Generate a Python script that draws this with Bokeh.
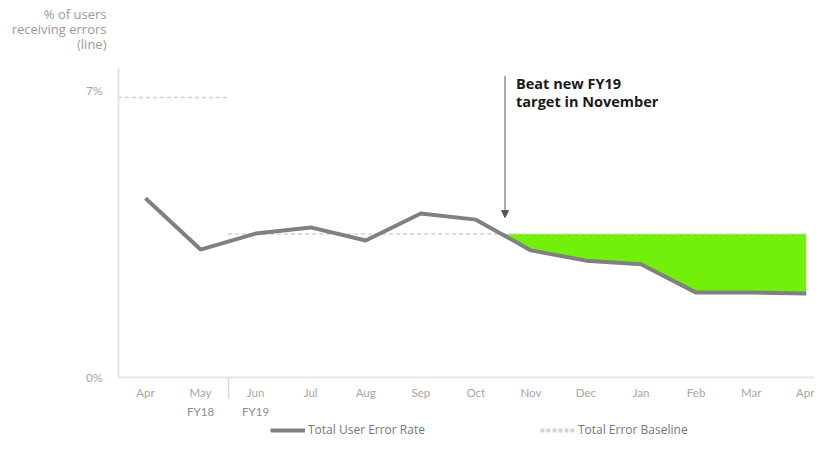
from bokeh.plotting import figure
from bokeh.layouts import column
from bokeh.models import (Range1d, FixedTicker, LinearAxis, Label, Arrow, NormalHead, Legend,
                          LegendItem)
from bokeh.embed import file_html
from bokeh.resources import INLINE

# ---------------- data ----------------
months = ["Apr", "May", "Jun", "Jul", "Aug", "Sep", "Oct", "Nov", "Dec", "Jan", "Feb", "Mar", "Apr"]
error_rate = [4.37, 3.12, 3.51, 3.66, 3.34, 4.0, 3.85, 3.1, 2.85, 2.76, 2.07, 2.07, 2.05]
fy18_baseline = 6.83
fy19_baseline = 3.5
fy_labels = {1: "FY18", 2: "FY19"}
fy_boundary = 1.5
y_ticks = [0, 7]
y_tick_labels = {0: "0%", 7: "7%"}
y_title_lines = ["% of users", "receiving errors", "(line)"]
legend_labels = ["Total User Error Rate", "Total Error Baseline"]
annotation_text = "Beat new FY19\ntarget in November"
arrow_x = 6.53
arrow_top = 7.35
arrow_bottom = 3.9

x = list(range(len(months)))

# crossing where the line goes below the FY19 baseline (last crossing)
cross_i = None
for i in range(len(error_rate) - 1, 0, -1):
    if error_rate[i - 1] > fy19_baseline >= error_rate[i]:
        cross_i = i
        break
a, b = error_rate[cross_i - 1], error_rate[cross_i]
xc = (cross_i - 1) + (a - fy19_baseline) / (a - b)
fill_x = [xc] + x[cross_i:]
fill_y1 = [fy19_baseline] + error_rate[cross_i:]
fill_y2 = [fy19_baseline] * len(fill_x)

FONT = "Lato"
FONT2 = "Open Sans"
W = 814
TOP_H, MAIN_H, LEG_H = 60, 360, 18
LEFT = 118

LINE_COLOR = "#808080"
BASE_COLOR = "#d0d0d0"

# ---------------- top strip: y-axis title (as right-aligned axis labels) ----------------
top = figure(width=W, height=TOP_H, output_backend="svg", toolbar_location=None,
             x_range=Range1d(0, 1), y_range=Range1d(0, TOP_H),
             x_axis_location=None,
             min_border_left=LEFT, min_border_right=0, min_border_top=0, min_border_bottom=0)
top.outline_line_color = None
top.xgrid.visible = False
top.ygrid.visible = False
title_pos = [TOP_H - 13 - 15 * k for k in range(len(y_title_lines))]
ta = top.yaxis[0]
ta.ticker = FixedTicker(ticks=title_pos)
ta.major_label_overrides = {pos: t for pos, t in zip(title_pos, y_title_lines)}
ta.axis_line_color = None
ta.major_tick_line_color = None
ta.minor_tick_line_color = None
ta.major_label_standoff = 6
ta.major_label_text_font = FONT2
ta.major_label_text_font_size = "13px"
ta.major_label_text_color = "#9a9a9a"

# ---------------- main chart ----------------
p = figure(width=W, height=MAIN_H, output_backend="svg", toolbar_location=None,
           x_range=Range1d(-0.49, 12.15), y_range=Range1d(0, 7.56),
           min_border_left=LEFT, min_border_right=0, min_border_top=7, min_border_bottom=43)
p.outline_line_color = None
p.xgrid.visible = False
p.ygrid.visible = False

p.varea(x=fill_x, y1=fill_y1, y2=fill_y2, fill_color="#72f00c", fill_alpha=1)
p.line([-0.5, fy_boundary], [fy18_baseline, fy18_baseline], line_color=BASE_COLOR,
       line_width=1.5, line_dash="4 3")
p.line([fy_boundary, x[-1]], [fy19_baseline, fy19_baseline], line_color=BASE_COLOR,
       line_width=1.5, line_dash="4 3")
p.line(x, error_rate, line_color=LINE_COLOR, line_width=4)

xa = p.xaxis[0]
xa.ticker = FixedTicker(ticks=x, minor_ticks=[fy_boundary])
xa.major_label_overrides = {i: m for i, m in enumerate(months)}
xa.major_tick_out = 0
xa.major_tick_in = 0
xa.minor_tick_in = 0
xa.minor_tick_out = 21
xa.minor_tick_line_color = "#d9d9d9"
xa.minor_tick_line_width = 1.5
xa.axis_line_color = "#e6e6e6"
xa.axis_line_width = 2
xa.major_label_standoff = -13
xa.major_label_text_font = FONT
xa.major_label_text_font_size = "11.5px"
xa.major_label_text_color = "#a6a6a6"

xa2 = LinearAxis(ticker=FixedTicker(ticks=list(fy_labels.keys())), major_label_overrides=fy_labels)
xa2.axis_line_color = None
xa2.major_tick_line_color = None
xa2.minor_tick_line_color = None
xa2.major_label_standoff = -3
xa2.major_label_text_font = FONT
xa2.major_label_text_font_size = "11.5px"
xa2.major_label_text_color = "#8c8c8c"
p.add_layout(xa2, "below")

ya = p.yaxis[0]
ya.ticker = FixedTicker(ticks=y_ticks)
ya.major_label_overrides = y_tick_labels
ya.major_tick_line_color = None
ya.minor_tick_line_color = None
ya.axis_line_color = "#e6e6e6"
ya.axis_line_width = 2
ya.major_label_standoff = 10
ya.major_label_text_font = FONT
ya.major_label_text_font_size = "12px"
ya.major_label_text_color = "#a6a6a6"

p.add_layout(Arrow(x_start=arrow_x, y_start=arrow_top, x_end=arrow_x, y_end=arrow_bottom,
                   line_color="#555555", line_width=1,
                   end=NormalHead(size=7, line_color="#555555", fill_color="#555555", line_width=1)))
p.add_layout(Label(x=arrow_x, y=arrow_top, x_offset=11, y_offset=2, text=annotation_text,
                   text_align="left", text_baseline="top", text_font=FONT2,
                   text_font_style="bold", text_font_size="14.5px", text_color="#1a1a1a",
                   text_line_height=0.95))

# ---------------- legend strip ----------------
lf = figure(width=W, height=LEG_H, output_backend="svg", toolbar_location=None,
            x_range=Range1d(100, 101), y_range=Range1d(100, 101),
            x_axis_location=None, y_axis_location=None,
            min_border_left=LEFT, min_border_right=0, min_border_top=0, min_border_bottom=0)
lf.outline_line_color = None
lf.xgrid.visible = False
lf.ygrid.visible = False
# series drawn out of view; they only supply the legend keys
k1 = lf.line(x, error_rate, line_color=LINE_COLOR, line_width=4)
k2 = lf.line(x, [fy19_baseline] * len(x), line_color="#d3d3d3", line_width=4, line_dash="4 2")
legend = Legend(items=[LegendItem(label=legend_labels[0], renderers=[k1]),
                       LegendItem(label=legend_labels[1], renderers=[k2])],
                orientation="horizontal", location=(152, 0), spacing=115,
                glyph_width=35, glyph_height=14, label_height=14, label_standoff=3,
                padding=0, margin=0, border_line_color=None, background_fill_alpha=0,
                label_text_font=FONT2, label_text_font_size="12px", label_text_color="#777777")
lf.add_layout(legend)

layout = column(top, p, lf, spacing=0)
open("out.html", "w").write(file_html(layout, INLINE))
